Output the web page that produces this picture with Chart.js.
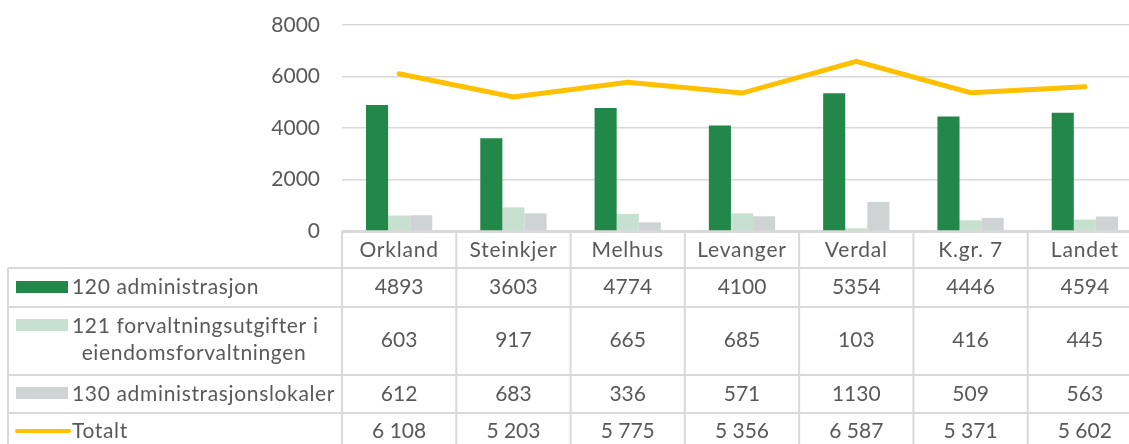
<html>
  <head>
    <script src="https://cdn.jsdelivr.net/npm/chart.js"></script>
    <style>
    body { margin: 0; overflow: hidden; background: #fff; }
    #chart_div { width: 1150px; height: 444px; }
    </style>
  </head>
  <body>
    <div id="chart_div"><canvas id="costChart"></canvas></div>

    <script type="text/javascript">
      // data
      var categories = ["Orkland", "Steinkjer", "Melhus", "Levanger", "Verdal", "K.gr. 7", "Landet"];
      var admin120   = [4893, 3603, 4774, 4100, 5354, 4446, 4594];
      var forv121    = [603, 917, 665, 685, 103, 416, 445];
      var lokaler130 = [612, 683, 336, 571, 1130, 509, 563];
      var totalt     = [6108, 5203, 5775, 5356, 6587, 5371, 5602];
      var yTicks     = [0, 2000, 4000, 6000, 8000];

      var seriesNames = [["120 administrasjon"], ["121 forvaltningsutgifter i", "eiendomsforvaltningen"], ["130 administrasjonslokaler"], ["Totalt"]];

      var textColor = "#595959";
      var gridColor = "#d9d9d9";
      var fontFamily = "Lato, 'Open Sans', sans-serif";
      var fontSize = 21;

      function fmtSpace(v) {
        return String(v).replace(/\B(?=(\d{3})+(?!\d))/g, " ");
      }

      // draws the data table under the plot, columns follow the x scale
      const tablePlugin = {
        id: "dataTable",
        afterDraw(chart) {
          const ctx = chart.ctx;
          const xs = chart.scales.x;
          const n = categories.length;
          const half = (xs.getPixelForValue(1) - xs.getPixelForValue(0)) / 2;
          const left = 8;
          const mid = xs.getPixelForValue(0) - half;
          const right = xs.getPixelForValue(n - 1) + half;
          const rowLines = [268, 307, 375, 413];
          const top = chart.chartArea.bottom;

          ctx.save();
          ctx.strokeStyle = gridColor;
          ctx.lineWidth = 2;
          ctx.beginPath();
          ctx.moveTo(mid, top + 1); ctx.lineTo(right, top + 1);
          rowLines.forEach(function (y) { ctx.moveTo(left, y); ctx.lineTo(right, y); });
          ctx.moveTo(left, rowLines[0]); ctx.lineTo(left, 460);
          for (let i = 0; i <= n; i++) {
            const bx = mid + i * half * 2;
            ctx.moveTo(bx, top); ctx.lineTo(bx, 460);
          }
          ctx.stroke();

          ctx.fillStyle = textColor;
          ctx.font = fontSize + "px " + fontFamily;
          ctx.textAlign = "center";
          ctx.textBaseline = "middle";

          const rowMid = [250, 287, 340, 394, 431];
          categories.forEach(function (c, i) {
            const cx = xs.getPixelForValue(i);
            ctx.letterSpacing = "0.8px";
            ctx.fillText(c, cx, rowMid[0]);
            ctx.letterSpacing = "0px";
            ctx.fillText(String(admin120[i]), cx, rowMid[1]);
            ctx.fillText(String(forv121[i]), cx, rowMid[2]);
            ctx.fillText(String(lokaler130[i]), cx, rowMid[3]);
            ctx.fillText(fmtSpace(totalt[i]), cx, rowMid[4]);
          });

          // legend keys
          const sw = [chart.data.datasets[1].backgroundColor, chart.data.datasets[2].backgroundColor, chart.data.datasets[3].backgroundColor];
          ctx.fillStyle = sw[0]; ctx.fillRect(16, 281, 52, 12);
          ctx.fillStyle = sw[1]; ctx.fillRect(16, 319, 52, 12);
          ctx.fillStyle = sw[2]; ctx.fillRect(16, 387, 52, 12);
          ctx.strokeStyle = chart.data.datasets[0].borderColor;
          ctx.lineWidth = 4;
          ctx.lineCap = "round";
          ctx.beginPath(); ctx.moveTo(17, 431); ctx.lineTo(69, 431); ctx.stroke();

          ctx.fillStyle = textColor;
          ctx.letterSpacing = "0.65px";
          ctx.textAlign = "left";
          ctx.fillText(seriesNames[0][0], 72, 287);
          ctx.fillText(seriesNames[1][0], 72, 326);
          ctx.textAlign = "center";
          ctx.fillText(seriesNames[1][1], 194, 353);
          ctx.textAlign = "left";
          ctx.fillText(seriesNames[2][0], 72, 394);
          ctx.fillText(seriesNames[3][0], 72, 431);
          ctx.restore();
        }
      };

      const ctx = document.getElementById("costChart");

      new Chart(ctx, {
        type: "bar",
        data: {
          labels: categories,
          datasets: [{
            type: "line",
            label: "Totalt",
            data: totalt,
            borderColor: "#ffc000",
            borderWidth: 5,
            pointRadius: 0,
            tension: 0,
            borderCapStyle: "round",
            order: 0
          }, {
            label: "120 administrasjon",
            data: admin120,
            backgroundColor: "#22884a",
            categoryPercentage: 0.58,
            barPercentage: 1,
            order: 1
          }, {
            label: "121 forvaltningsutgifter i eiendomsforvaltningen",
            data: forv121,
            backgroundColor: "#c8e0cf",
            categoryPercentage: 0.58,
            barPercentage: 1,
            order: 1
          }, {
            label: "130 administrasjonslokaler",
            data: lokaler130,
            backgroundColor: "#d0d3d4",
            categoryPercentage: 0.58,
            barPercentage: 1,
            order: 1
          }]
        },
        options: {
          responsive: true,
          maintainAspectRatio: false,
          animation: false,
          layout: { padding: { top: 25, bottom: 213, left: 0, right: 8 } },
          plugins: {
            legend: { display: false },
            tooltip: { enabled: false }
          },
          scales: {
            x: { display: false },
            y: {
              min: 0,
              max: 8000,
              afterFit: function (scale) { scale.width = 342; },
              afterBuildTicks: function (scale) { scale.ticks = yTicks.map(function (v) { return { value: v }; }); },
              border: { display: false },
              grid: { color: gridColor, lineWidth: 1.5, drawTicks: true, tickLength: 22, tickColor: "rgba(0,0,0,0)" },
              ticks: {
                padding: 0,
                color: textColor,
                font: { family: fontFamily, size: fontSize },
                callback: function (v) { return String(v); }
              }
            }
          }
        },
        plugins: [tablePlugin]
      });
    </script>
  </body>
</html>
